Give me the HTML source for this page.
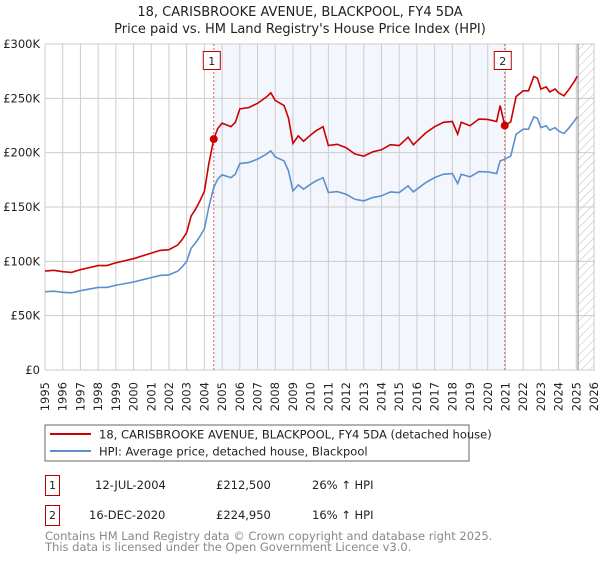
<!DOCTYPE html>
<html><head><meta charset="utf-8"><style>
body{margin:0;background:#fff;width:600px;height:560px;overflow:hidden;font-family:"DejaVu Sans","Liberation Sans",sans-serif;}
svg text{font-family:"DejaVu Sans","Liberation Sans",sans-serif;}
</style></head><body>
<svg id="chart" width="600" height="560" xmlns="http://www.w3.org/2000/svg">
<defs><pattern id="hatch" width="6" height="6" patternUnits="userSpaceOnUse" patternTransform="rotate(45)"><line x1="0" y1="0" x2="0" y2="6" stroke="#bbb" stroke-width="1"/></pattern></defs>
<text x="300" y="16" text-anchor="middle" font-size="13" fill="#222">18, CARISBROOKE AVENUE, BLACKPOOL, FY4 5DA</text>
<text x="300" y="33" text-anchor="middle" font-size="13" fill="#222">Price paid vs. HM Land Registry's House Price Index (HPI)</text>
<g id="grid"></g><g id="marks"></g><g id="axes"></g>
<rect x="45" y="425" width="424" height="36" fill="#fff" stroke="#666"/>
<line x1="50" y1="434" x2="91" y2="434" stroke="#cc0000" stroke-width="2"/>
<text x="99" y="438.5" font-size="11.5" fill="#222">18, CARISBROOKE AVENUE, BLACKPOOL, FY4 5DA (detached house)</text>
<line x1="50" y1="451" x2="91" y2="451" stroke="#5b8fd0" stroke-width="2"/>
<text x="99" y="455.5" font-size="11.5" fill="#222">HPI: Average price, detached house, Blackpool</text>
<rect x="45.5" y="475.5" width="14" height="20" fill="#fff" stroke="#b00"/>
<text x="52.5" y="489" text-anchor="middle" font-size="11" fill="#222">1</text>
<text x="95" y="489" font-size="11.5" fill="#222">12-JUL-2004</text>
<text x="216" y="489" font-size="11.5" fill="#222">£212,500</text>
<text x="312" y="489" font-size="11.5" fill="#222">26% ↑ HPI</text>
<rect x="45.5" y="505.5" width="14" height="20" fill="#fff" stroke="#b00"/>
<text x="52.5" y="519" text-anchor="middle" font-size="11" fill="#222">2</text>
<text x="89" y="519" font-size="11.5" fill="#222">16-DEC-2020</text>
<text x="216" y="519" font-size="11.5" fill="#222">£224,950</text>
<text x="312" y="519" font-size="11.5" fill="#222">16% ↑ HPI</text>
<text x="45" y="540" font-size="11.5" fill="#888">Contains HM Land Registry data © Crown copyright and database right 2025.</text>
<text x="45" y="551" font-size="11.5" fill="#888">This data is licensed under the Open Government Licence v3.0.</text>
</svg>
<script>
const hpiYears=[1995,1995.5,1996,1996.5,1997,1997.5,1998,1998.5,1999,1999.5,2000,2000.5,2001,2001.5,2002,2002.5,2002.75,2003,2003.25,2003.5,2003.75,2004,2004.25,2004.53,2004.75,2005,2005.5,2005.75,2006,2006.5,2007,2007.5,2007.75,2008,2008.5,2008.75,2009,2009.3,2009.6,2010,2010.3,2010.7,2011,2011.5,2012,2012.5,2013,2013.5,2014,2014.5,2015,2015.5,2015.8,2016,2016.5,2017,2017.5,2018,2018.3,2018.5,2019,2019.5,2020,2020.5,2020.7,2020.96,2021.3,2021.6,2022,2022.3,2022.6,2022.8,2023,2023.3,2023.5,2023.8,2024,2024.3,2024.6,2024.9,2025.05];
const hpiValues=[72,72.5,71.5,71,73,74.5,76,76,78,79.5,81,83,85,87,87.5,91,95,100,112,117,123,130,150,168,175.6,179.6,177,180.2,190,190.9,194,198.6,201.7,196.1,192.4,183.2,164.8,170.3,166.4,171,174,177,163.3,164.2,161.7,157.1,155.6,158.7,160.2,163.9,163.3,169.4,163.9,166.4,172.5,177,180.2,180.8,171.6,180.2,177.7,182.6,182.3,180.8,192.4,194,197,217,221.6,221.6,233,231.7,223,224.7,220.7,223,220,217.6,223,229.3,233];
const saleYears=[2004.53,2020.96];
const saleValues=[212.5,224.95];
const saleLabels=["1","2"];
const yTicks=[0,50,100,150,200,250,300];
const yTickLabels=["£0","£50K","£100K","£150K","£200K","£250K","£300K"];
const xTicks=[1995,1996,1997,1998,1999,2000,2001,2002,2003,2004,2005,2006,2007,2008,2009,2010,2011,2012,2013,2014,2015,2016,2017,2018,2019,2020,2021,2022,2023,2024,2025,2026];
const NS="http://www.w3.org/2000/svg";
const X=y=>45+(y-1995)*17.71, Y=v=>370-v*326/300;
function mk(p,t,a){const e=document.createElementNS(NS,t);for(const k in a)e.setAttribute(k,a[k]);p.appendChild(e);return e;}
const g=document.getElementById('grid'),m=document.getElementById('marks'),ax=document.getElementById('axes');
const sh=mk(g,'rect',{x:X(saleYears[0]),y:44,width:X(saleYears[1])-X(saleYears[0]),height:326,fill:'#eef3fc',opacity:0.7});


const ht=mk(g,'rect',{x:X(2025.1),y:44,width:595-X(2025.1),height:326,fill:'url(#hatch)'});


xTicks.forEach(t=>{const l=mk(g,'line',{x1:X(t),x2:X(t),y1:44,y2:370,stroke:'#ccc','stroke-width':1});


const tx=mk(ax,'text',{x:0,y:0,'font-size':11.5,fill:'#222','text-anchor':'end',transform:`translate(${X(t)+4},382) rotate(-90)`});tx.textContent=t;

});
yTicks.forEach((t,i)=>{const l=mk(g,'line',{x1:45,x2:595,y1:Y(t),y2:Y(t),stroke:'#ccc','stroke-width':1});


const tx=mk(ax,'text',{x:40,y:Y(t)+4,'font-size':11.5,fill:'#222','text-anchor':'end'});tx.textContent=yTickLabels[i];

});
const vl=mk(g,'line',{x1:X(2025.1),x2:X(2025.1),y1:44,y2:370,stroke:'#888','stroke-width':1});


const hpiAt=y=>{for(let i=1;i<hpiYears.length;i++)if(y<=hpiYears[i]){const f=(y-hpiYears[i-1])/(hpiYears[i]-hpiYears[i-1]);return hpiValues[i-1]+f*(hpiValues[i]-hpiValues[i-1]);}return hpiValues[hpiValues.length-1];};
const r1=saleValues[0]/hpiAt(saleYears[0]),r2=saleValues[1]/hpiAt(saleYears[1]);
saleYears.forEach((s,i)=>{const l=mk(g,'line',{x1:X(s),x2:X(s),y1:44,y2:370,stroke:'#e06060','stroke-width':1,'stroke-dasharray':'2,2'});


const b=mk(m,'rect',{x:X(s)-10.5,y:51.5,width:17,height:18,fill:'#fff',stroke:'#b00'});


const t=mk(m,'text',{x:X(s)-2,y:65,'font-size':11,'text-anchor':'middle',fill:'#222'});t.textContent=saleLabels[i];});
const hp=mk(m,'polyline',{points:hpiYears.map((y,i)=>X(y)+','+Y(hpiValues[i])).join(' '),fill:'none',stroke:'#5b8fd0','stroke-width':1.6});


const rp=mk(m,'polyline',{points:hpiYears.map((y,i)=>X(y)+','+Y(hpiValues[i]*(y<saleYears[1]?r1:r2))).join(' '),fill:'none',stroke:'#cc0000','stroke-width':1.6});


saleYears.forEach((s,i)=>{const c=mk(m,'circle',{cx:X(s),cy:Y(saleValues[i]),r:4,fill:'#cc0000'});

});
</script>
</body></html>
